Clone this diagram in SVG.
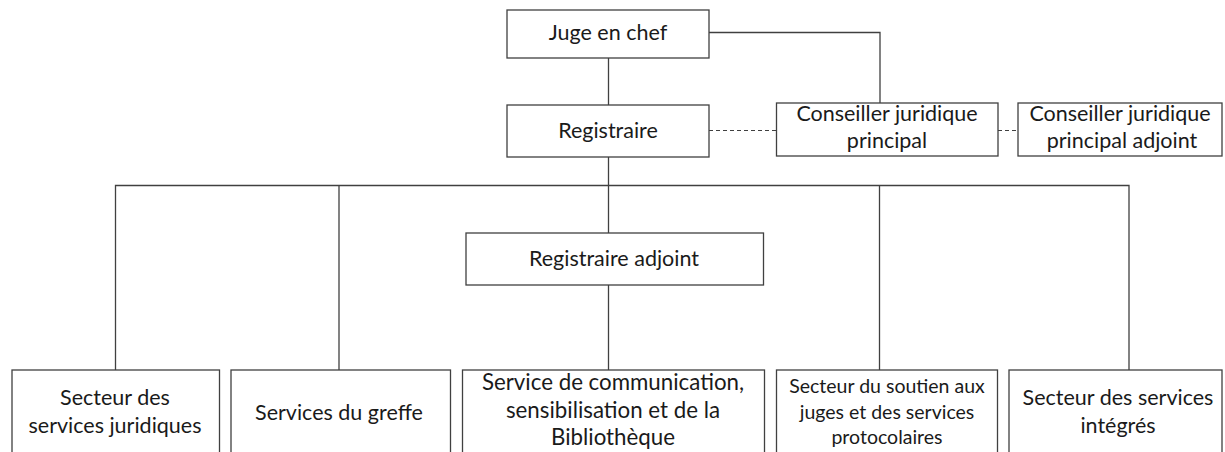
<svg xmlns="http://www.w3.org/2000/svg" width="1225" height="452" viewBox="0 0 1225 452">
<style>
.box{fill:#fff;stroke:#404040;stroke-width:1.3}
.ln{fill:none;stroke:#404040;stroke-width:1.3}
.dash{fill:none;stroke:#404040;stroke-width:1.2;stroke-dasharray:4 3}
text{font-family:Lato,"Liberation Sans",sans-serif;font-size:21.5px;fill:#1a1a1a;text-anchor:middle}
.sm{font-size:19.5px}
.lg{font-size:22.3px}
</style>
<rect width="1225" height="452" fill="#fff"/>
<g id="connectors">
<path class="ln" d="M709 32.5H880V103"/>
<path class="ln" d="M608.5 58V105"/>
<path class="dash" d="M709 130.5H776.5"/>
<path class="dash" d="M998 130.5H1018"/>
<path class="ln" d="M608.5 157V233"/>
<path class="ln" d="M115.5 370V185.5H1129V370"/>
<path class="ln" d="M339 185.5V370"/>
<path class="ln" d="M879.5 185.5V370"/>
<path class="ln" d="M608.5 285V370"/>
</g>
<g id="juge"><rect class="box" x="507" y="10" width="202" height="48"/><text x="608" y="40">Juge en chef</text></g>
<g id="registraire"><rect class="box" x="507" y="105" width="202" height="52"/><text x="608" y="138">Registraire</text></g>
<g id="conseiller"><rect class="box" x="776.5" y="103" width="221.5" height="53"/><text x="887" y="121">Conseiller juridique</text><text x="887" y="148">principal</text></g>
<g id="conseiller-adjoint"><rect class="box" x="1018" y="103" width="204" height="53"/><text x="1120" y="121">Conseiller juridique</text><text x="1122" y="148">principal adjoint</text></g>
<g id="registraire-adjoint"><rect class="box" x="466" y="233" width="297.5" height="52"/><text x="614" y="266">Registraire adjoint</text></g>
<g id="juridiques"><rect class="box" x="12" y="370" width="207.5" height="95"/><text x="115" y="405">Secteur des</text><text x="115" y="433">services juridiques</text></g>
<g id="greffe"><rect class="box" x="231" y="370" width="219.5" height="95"/><text x="339" y="420">Services du greffe</text></g>
<g id="communication"><rect class="box" x="462.5" y="370" width="302" height="95"/><text class="lg" x="613" y="390">Service de communication,</text><text class="lg" x="613" y="418">sensibilisation et de la</text><text class="lg" x="613" y="445">Bibliothèque</text></g>
<g id="soutien"><rect class="box" x="776.5" y="370" width="221" height="95"/><text class="sm" x="887" y="393">Secteur du soutien aux</text><text class="sm" x="887" y="419">juges et des services</text><text class="sm" x="887" y="444">protocolaires</text></g>
<g id="integres"><rect class="box" x="1009" y="370" width="213" height="95"/><text x="1118" y="405">Secteur des services</text><text x="1118" y="433">intégrés</text></g>
</svg>
